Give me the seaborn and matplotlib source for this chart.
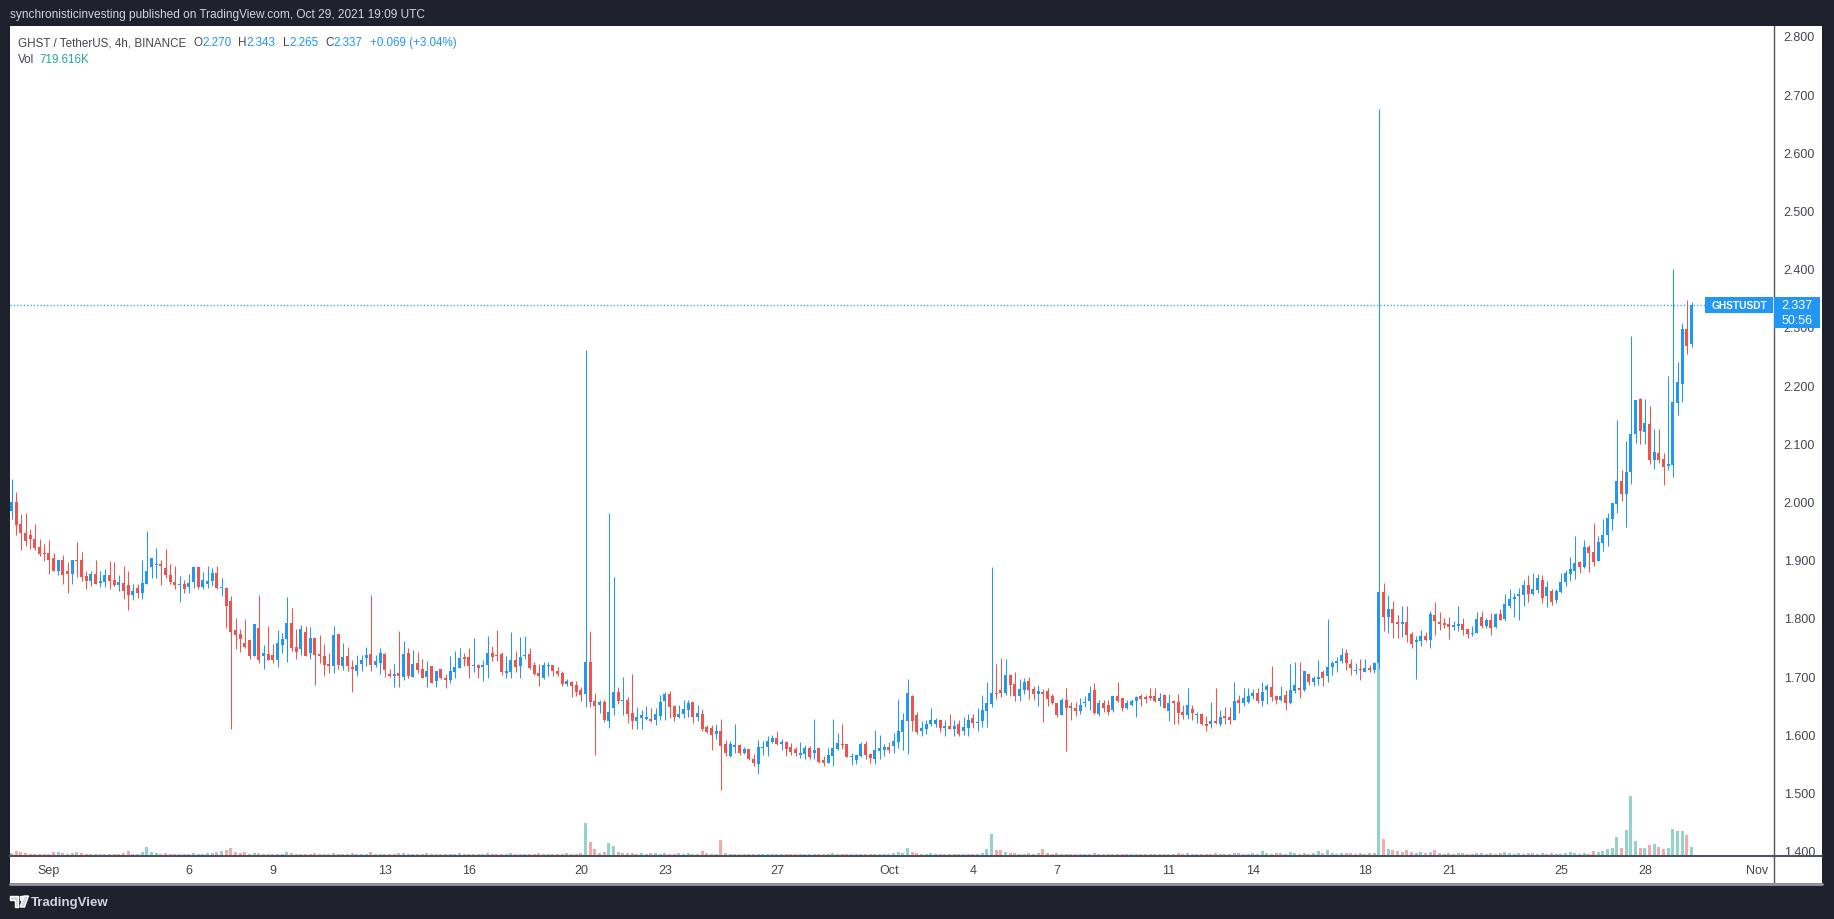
import numpy as np
import pandas as pd
import seaborn as sns
import matplotlib
matplotlib.use('Agg')
from matplotlib import pyplot as plt
import matplotlib.dates as mdates
from matplotlib.patches import Rectangle, Polygon
from matplotlib.lines import Line2D

# GHST / USDT 4h candles (Aug 30 16:00 -> Oct 29 16:00)
last_bar = '2021-10-29 16:00'

opens = [
    1.983, 1.999, 1.961, 1.946, 1.943, 1.936, 1.922, 1.912, 1.912, 1.903,
    1.881, 1.900, 1.881, 1.876, 1.900, 1.900, 1.872, 1.864, 1.876, 1.860,
    1.862, 1.874, 1.865, 1.857, 1.860, 1.857, 1.840, 1.851, 1.843, 1.859,
    1.888, 1.891, 1.893, 1.886, 1.874, 1.862, 1.857, 1.858, 1.854, 1.862,
    1.888, 1.854, 1.859, 1.864, 1.877, 1.852, 1.852, 1.829, 1.779, 1.772,
    1.757, 1.762, 1.735, 1.783, 1.734, 1.738, 1.736, 1.727, 1.754, 1.763,
    1.791, 1.750, 1.746, 1.776, 1.739, 1.766, 1.738, 1.734, 1.721, 1.718,
    1.772, 1.718, 1.735, 1.716, 1.708, 1.721, 1.732, 1.738, 1.720, 1.723,
    1.738, 1.704, 1.701, 1.706, 1.699, 1.740, 1.699, 1.723, 1.712, 1.699,
    1.717, 1.691, 1.712, 1.697, 1.693, 1.707, 1.714, 1.733, 1.733, 1.717,
    1.719, 1.716, 1.719, 1.740, 1.736, 1.738, 1.705, 1.707, 1.728, 1.717,
    1.734, 1.738, 1.719, 1.705, 1.697, 1.717, 1.719, 1.709, 1.705, 1.686,
    1.690, 1.684, 1.676, 1.669, 1.724, 1.657, 1.650, 1.655, 1.623, 1.645,
    1.673, 1.657, 1.659, 1.636, 1.623, 1.628, 1.626, 1.626, 1.625, 1.632,
    1.657, 1.669, 1.649, 1.630, 1.635, 1.642, 1.656, 1.630, 1.635, 1.613,
    1.611, 1.601, 1.606, 1.583, 1.563, 1.578, 1.582, 1.568, 1.575, 1.558,
    1.549, 1.577, 1.578, 1.587, 1.594, 1.583, 1.587, 1.578, 1.575, 1.565,
    1.566, 1.577, 1.568, 1.577, 1.556, 1.551, 1.563, 1.575, 1.583, 1.583,
    1.561, 1.556, 1.563, 1.583, 1.566, 1.558, 1.571, 1.573, 1.578, 1.580,
    1.587, 1.604, 1.623, 1.666, 1.633, 1.606, 1.609, 1.618, 1.618, 1.625,
    1.611, 1.614, 1.609, 1.618, 1.606, 1.611, 1.628, 1.619, 1.623, 1.640,
    1.652, 1.671, 1.676, 1.671, 1.702, 1.686, 1.666, 1.676, 1.692, 1.678,
    1.669, 1.673, 1.674, 1.666, 1.654, 1.633, 1.659, 1.649, 1.645, 1.640,
    1.654, 1.657, 1.676, 1.635, 1.654, 1.650, 1.642, 1.666, 1.662, 1.645,
    1.650, 1.657, 1.666, 1.664, 1.666, 1.666, 1.657, 1.668, 1.640, 1.657,
    1.656, 1.638, 1.633, 1.644, 1.633, 1.635, 1.618, 1.618, 1.623, 1.618,
    1.632, 1.630, 1.625, 1.659, 1.654, 1.656, 1.666, 1.671, 1.657, 1.676,
    1.681, 1.666, 1.659, 1.668, 1.654, 1.674, 1.680, 1.676, 1.704, 1.690,
    1.695, 1.707, 1.700, 1.716, 1.723, 1.726, 1.740, 1.721, 1.709, 1.712,
    1.707, 1.714, 1.711, 1.723, 1.845, 1.802, 1.815, 1.793, 1.790, 1.793,
    1.772, 1.759, 1.760, 1.769, 1.762, 1.805, 1.793, 1.791, 1.790, 1.785,
    1.786, 1.790, 1.781, 1.772, 1.774, 1.802, 1.786, 1.797, 1.785, 1.807,
    1.798, 1.820, 1.832, 1.837, 1.839, 1.856, 1.841, 1.848, 1.865, 1.837,
    1.846, 1.831, 1.844, 1.862, 1.875, 1.880, 1.896, 1.887, 1.922, 1.913,
    1.898, 1.929, 1.942, 1.970, 1.996, 2.035, 2.013, 2.051, 2.116, 2.176,
    2.119, 2.133, 2.071, 2.083, 2.073, 2.061, 2.063, 2.169, 2.202, 2.296,
    2.270,
]

highs = [
    2.039, 2.017, 1.979, 1.981, 1.953, 1.961, 1.936, 1.927, 1.934, 1.912,
    1.900, 1.908, 1.896, 1.900, 1.931, 1.913, 1.881, 1.881, 1.900, 1.881,
    1.884, 1.898, 1.896, 1.874, 1.889, 1.881, 1.859, 1.859, 1.900, 1.949,
    1.903, 1.920, 1.900, 1.919, 1.893, 1.889, 1.872, 1.865, 1.876, 1.888,
    1.888, 1.879, 1.889, 1.886, 1.889, 1.869, 1.853, 1.838, 1.800, 1.781,
    1.798, 1.764, 1.790, 1.839, 1.754, 1.786, 1.755, 1.779, 1.774, 1.836,
    1.817, 1.781, 1.788, 1.786, 1.785, 1.766, 1.771, 1.755, 1.740, 1.786,
    1.772, 1.757, 1.750, 1.727, 1.736, 1.736, 1.750, 1.839, 1.736, 1.748,
    1.739, 1.713, 1.721, 1.778, 1.760, 1.748, 1.745, 1.742, 1.730, 1.726,
    1.717, 1.709, 1.712, 1.704, 1.734, 1.743, 1.748, 1.740, 1.748, 1.765,
    1.721, 1.728, 1.769, 1.752, 1.779, 1.741, 1.734, 1.775, 1.744, 1.767,
    1.769, 1.748, 1.724, 1.721, 1.724, 1.724, 1.719, 1.716, 1.709, 1.695,
    1.691, 1.691, 1.681, 2.260, 1.777, 1.671, 1.659, 1.659, 1.980, 1.870,
    1.681, 1.698, 1.664, 1.704, 1.647, 1.642, 1.648, 1.645, 1.645, 1.668,
    1.673, 1.675, 1.650, 1.650, 1.659, 1.659, 1.656, 1.650, 1.644, 1.616,
    1.616, 1.618, 1.626, 1.590, 1.589, 1.618, 1.583, 1.578, 1.575, 1.566,
    1.590, 1.589, 1.597, 1.599, 1.606, 1.592, 1.589, 1.585, 1.578, 1.587,
    1.582, 1.580, 1.626, 1.578, 1.563, 1.577, 1.626, 1.602, 1.618, 1.583,
    1.568, 1.565, 1.587, 1.589, 1.568, 1.607, 1.599, 1.583, 1.587, 1.602,
    1.661, 1.637, 1.695, 1.668, 1.638, 1.623, 1.625, 1.645, 1.628, 1.625,
    1.625, 1.635, 1.625, 1.625, 1.630, 1.635, 1.635, 1.645, 1.668, 1.690,
    1.888, 1.721, 1.731, 1.729, 1.704, 1.707, 1.695, 1.697, 1.698, 1.683,
    1.685, 1.678, 1.680, 1.669, 1.654, 1.662, 1.680, 1.656, 1.656, 1.662,
    1.666, 1.683, 1.688, 1.659, 1.659, 1.659, 1.666, 1.690, 1.662, 1.659,
    1.661, 1.666, 1.669, 1.668, 1.680, 1.680, 1.671, 1.669, 1.669, 1.659,
    1.669, 1.650, 1.680, 1.650, 1.638, 1.637, 1.632, 1.656, 1.680, 1.642,
    1.647, 1.647, 1.690, 1.668, 1.680, 1.680, 1.678, 1.680, 1.690, 1.686,
    1.718, 1.668, 1.683, 1.676, 1.721, 1.724, 1.724, 1.709, 1.705, 1.700,
    1.728, 1.711, 1.798, 1.726, 1.733, 1.748, 1.747, 1.730, 1.723, 1.730,
    1.730, 1.719, 1.724, 2.675, 1.860, 1.839, 1.829, 1.805, 1.821, 1.821,
    1.776, 1.769, 1.779, 1.776, 1.812, 1.827, 1.810, 1.800, 1.802, 1.795,
    1.821, 1.800, 1.781, 1.786, 1.810, 1.812, 1.800, 1.809, 1.809, 1.815,
    1.841, 1.850, 1.843, 1.851, 1.865, 1.874, 1.877, 1.875, 1.874, 1.863,
    1.850, 1.850, 1.877, 1.882, 1.904, 1.941, 1.898, 1.934, 1.925, 1.963,
    1.941, 1.970, 1.980, 1.997, 2.140, 2.054, 2.104, 2.284, 2.174, 2.178,
    2.176, 2.164, 2.125, 2.125, 2.083, 2.216, 2.400, 2.240, 2.307, 2.346,
    2.343,
]

lows = [
    1.970, 1.943, 1.916, 1.924, 1.919, 1.917, 1.906, 1.898, 1.876, 1.880,
    1.874, 1.859, 1.843, 1.859, 1.871, 1.864, 1.849, 1.855, 1.859, 1.854,
    1.854, 1.850, 1.855, 1.847, 1.833, 1.814, 1.831, 1.835, 1.833, 1.859,
    1.869, 1.869, 1.857, 1.869, 1.859, 1.850, 1.828, 1.843, 1.843, 1.852,
    1.850, 1.850, 1.852, 1.855, 1.850, 1.838, 1.783, 1.609, 1.746, 1.742,
    1.749, 1.730, 1.734, 1.723, 1.713, 1.727, 1.723, 1.715, 1.739, 1.725,
    1.744, 1.730, 1.737, 1.734, 1.730, 1.684, 1.723, 1.701, 1.706, 1.706,
    1.713, 1.711, 1.708, 1.673, 1.701, 1.708, 1.718, 1.709, 1.715, 1.704,
    1.699, 1.699, 1.682, 1.682, 1.694, 1.697, 1.699, 1.706, 1.697, 1.682,
    1.689, 1.681, 1.695, 1.680, 1.688, 1.697, 1.714, 1.717, 1.697, 1.707,
    1.697, 1.691, 1.697, 1.726, 1.726, 1.702, 1.697, 1.697, 1.707, 1.697,
    1.729, 1.712, 1.702, 1.683, 1.695, 1.700, 1.700, 1.700, 1.683, 1.683,
    1.664, 1.666, 1.657, 1.647, 1.647, 1.564, 1.636, 1.621, 1.611, 1.633,
    1.652, 1.633, 1.619, 1.609, 1.609, 1.609, 1.624, 1.621, 1.616, 1.625,
    1.625, 1.628, 1.623, 1.628, 1.628, 1.630, 1.620, 1.623, 1.606, 1.602,
    1.573, 1.592, 1.504, 1.563, 1.561, 1.568, 1.565, 1.566, 1.556, 1.546,
    1.532, 1.565, 1.563, 1.585, 1.582, 1.573, 1.563, 1.565, 1.563, 1.559,
    1.558, 1.558, 1.558, 1.551, 1.546, 1.551, 1.546, 1.573, 1.575, 1.561,
    1.547, 1.549, 1.561, 1.558, 1.551, 1.549, 1.558, 1.563, 1.568, 1.568,
    1.577, 1.573, 1.566, 1.606, 1.601, 1.597, 1.601, 1.614, 1.613, 1.604,
    1.597, 1.609, 1.597, 1.597, 1.599, 1.597, 1.611, 1.606, 1.613, 1.613,
    1.647, 1.661, 1.664, 1.668, 1.666, 1.657, 1.657, 1.669, 1.661, 1.659,
    1.649, 1.621, 1.649, 1.652, 1.630, 1.633, 1.571, 1.625, 1.632, 1.635,
    1.647, 1.642, 1.635, 1.632, 1.638, 1.633, 1.638, 1.655, 1.640, 1.644,
    1.649, 1.630, 1.649, 1.654, 1.659, 1.656, 1.649, 1.645, 1.623, 1.618,
    1.618, 1.626, 1.626, 1.625, 1.619, 1.616, 1.606, 1.611, 1.618, 1.614,
    1.618, 1.618, 1.625, 1.637, 1.649, 1.654, 1.661, 1.654, 1.649, 1.652,
    1.657, 1.652, 1.657, 1.642, 1.652, 1.671, 1.662, 1.674, 1.685, 1.683,
    1.685, 1.683, 1.690, 1.702, 1.707, 1.723, 1.711, 1.702, 1.704, 1.693,
    1.707, 1.707, 1.705, 1.712, 1.778, 1.774, 1.766, 1.766, 1.767, 1.759,
    1.748, 1.695, 1.752, 1.760, 1.748, 1.771, 1.779, 1.783, 1.764, 1.779,
    1.778, 1.771, 1.766, 1.769, 1.774, 1.783, 1.783, 1.771, 1.783, 1.796,
    1.795, 1.817, 1.801, 1.796, 1.820, 1.827, 1.839, 1.843, 1.825, 1.819,
    1.822, 1.825, 1.843, 1.855, 1.863, 1.867, 1.877, 1.886, 1.879, 1.889,
    1.898, 1.915, 1.923, 1.951, 1.980, 2.001, 1.956, 2.030, 2.100, 2.099,
    2.099, 2.064, 2.056, 2.066, 2.028, 2.054, 2.042, 2.149, 2.171, 2.253,
    2.265,
]

closes = [
    1.999, 1.959, 1.946, 1.933, 1.935, 1.921, 1.910, 1.909, 1.900, 1.881,
    1.900, 1.873, 1.876, 1.900, 1.897, 1.871, 1.864, 1.876, 1.859, 1.864,
    1.874, 1.864, 1.857, 1.861, 1.847, 1.840, 1.846, 1.843, 1.860, 1.881,
    1.903, 1.893, 1.889, 1.873, 1.861, 1.857, 1.858, 1.850, 1.860, 1.888,
    1.854, 1.865, 1.864, 1.877, 1.852, 1.854, 1.821, 1.775, 1.771, 1.764,
    1.750, 1.735, 1.790, 1.727, 1.740, 1.727, 1.727, 1.757, 1.764, 1.791,
    1.749, 1.742, 1.781, 1.735, 1.766, 1.737, 1.734, 1.720, 1.718, 1.771,
    1.720, 1.733, 1.718, 1.713, 1.719, 1.728, 1.736, 1.720, 1.726, 1.740,
    1.711, 1.701, 1.704, 1.701, 1.738, 1.701, 1.721, 1.711, 1.697, 1.709,
    1.689, 1.709, 1.697, 1.693, 1.709, 1.716, 1.731, 1.729, 1.717, 1.719,
    1.714, 1.719, 1.740, 1.733, 1.734, 1.707, 1.709, 1.728, 1.716, 1.733,
    1.736, 1.714, 1.704, 1.700, 1.719, 1.719, 1.709, 1.704, 1.686, 1.691,
    1.683, 1.673, 1.667, 1.724, 1.655, 1.648, 1.655, 1.624, 1.638, 1.673,
    1.657, 1.659, 1.635, 1.623, 1.630, 1.633, 1.630, 1.623, 1.635, 1.656,
    1.669, 1.647, 1.630, 1.635, 1.644, 1.654, 1.630, 1.637, 1.609, 1.604,
    1.599, 1.606, 1.580, 1.568, 1.583, 1.582, 1.568, 1.575, 1.558, 1.551,
    1.578, 1.578, 1.589, 1.594, 1.583, 1.587, 1.575, 1.570, 1.568, 1.568,
    1.577, 1.561, 1.573, 1.552, 1.551, 1.565, 1.577, 1.585, 1.582, 1.561,
    1.563, 1.565, 1.583, 1.564, 1.559, 1.573, 1.577, 1.578, 1.573, 1.589,
    1.606, 1.625, 1.671, 1.623, 1.604, 1.611, 1.618, 1.625, 1.625, 1.611,
    1.614, 1.609, 1.614, 1.601, 1.613, 1.625, 1.619, 1.621, 1.642, 1.654,
    1.671, 1.669, 1.671, 1.702, 1.685, 1.666, 1.678, 1.690, 1.676, 1.669,
    1.674, 1.669, 1.661, 1.654, 1.633, 1.659, 1.645, 1.645, 1.640, 1.650,
    1.656, 1.671, 1.637, 1.654, 1.645, 1.638, 1.666, 1.657, 1.645, 1.654,
    1.657, 1.664, 1.661, 1.661, 1.662, 1.657, 1.662, 1.645, 1.654, 1.654,
    1.637, 1.633, 1.650, 1.637, 1.635, 1.618, 1.614, 1.623, 1.619, 1.630,
    1.628, 1.625, 1.657, 1.654, 1.662, 1.666, 1.671, 1.657, 1.673, 1.683,
    1.664, 1.659, 1.666, 1.654, 1.676, 1.685, 1.676, 1.709, 1.690, 1.697,
    1.699, 1.697, 1.716, 1.723, 1.726, 1.736, 1.723, 1.714, 1.711, 1.711,
    1.714, 1.711, 1.723, 1.845, 1.802, 1.815, 1.791, 1.790, 1.793, 1.771,
    1.755, 1.762, 1.769, 1.762, 1.807, 1.795, 1.790, 1.788, 1.785, 1.788,
    1.790, 1.779, 1.772, 1.774, 1.798, 1.786, 1.797, 1.783, 1.807, 1.796,
    1.824, 1.832, 1.836, 1.841, 1.856, 1.841, 1.850, 1.868, 1.834, 1.853,
    1.827, 1.846, 1.862, 1.877, 1.884, 1.894, 1.887, 1.922, 1.912, 1.896,
    1.930, 1.942, 1.972, 1.997, 2.035, 2.013, 2.051, 2.116, 2.174, 2.121,
    2.135, 2.071, 2.085, 2.071, 2.059, 2.064, 2.171, 2.205, 2.296, 2.267,
    2.337,
]

# volume in thousands of GHST
volumes_k = [
    260, 420, 340, 260, 180, 180, 200, 200, 180, 320,
    320, 260, 180, 260, 320, 260, 200, 180, 200, 180,
    180, 200, 160, 180, 240, 400, 200, 180, 320, 720,
    300, 240, 200, 240, 180, 160, 180, 160, 200, 240,
    200, 160, 240, 260, 320, 400, 480, 640, 320, 240,
    320, 200, 280, 260, 200, 160, 180, 200, 200, 320,
    240, 200, 200, 160, 200, 240, 180, 200, 160, 240,
    200, 160, 180, 240, 160, 160, 200, 320, 160, 200,
    200, 160, 200, 280, 240, 200, 160, 180, 160, 240,
    200, 160, 180, 200, 160, 200, 240, 200, 200, 160,
    160, 180, 240, 160, 200, 200, 180, 240, 160, 200,
    160, 200, 180, 240, 160, 160, 180, 200, 180, 240,
    200, 200, 240, 2640, 1120, 560, 240, 320, 1040, 800,
    320, 240, 280, 240, 200, 240, 200, 240, 240, 200,
    240, 200, 200, 240, 200, 240, 200, 200, 400, 240,
    200, 160, 1280, 240, 200, 160, 200, 160, 160, 160,
    200, 200, 160, 200, 160, 160, 200, 160, 160, 160,
    160, 160, 200, 160, 160, 200, 240, 200, 160, 200,
    160, 160, 200, 160, 160, 200, 200, 160, 160, 240,
    320, 240, 640, 320, 280, 200, 200, 240, 160, 200,
    160, 200, 160, 160, 200, 200, 160, 200, 240, 560,
    1760, 480, 480, 320, 240, 240, 200, 200, 240, 200,
    240, 560, 240, 200, 240, 200, 200, 160, 160, 200,
    200, 160, 240, 200, 200, 160, 200, 160, 160, 200,
    160, 160, 200, 200, 160, 200, 200, 160, 200, 160,
    240, 160, 240, 200, 160, 200, 200, 160, 240, 200,
    160, 200, 280, 240, 200, 160, 240, 200, 400, 240,
    200, 240, 240, 200, 320, 240, 200, 240, 200, 280,
    400, 240, 480, 240, 200, 240, 280, 240, 200, 240,
    200, 240, 280, 15440, 1360, 560, 480, 400, 320, 480,
    320, 240, 320, 240, 320, 480, 240, 200, 240, 200,
    240, 240, 200, 200, 240, 240, 200, 240, 200, 240,
    320, 240, 200, 240, 200, 240, 280, 200, 240, 200,
    240, 200, 160, 240, 320, 240, 160, 240, 160, 400,
    320, 400, 560, 640, 1520, 640, 2080, 4800, 1200, 640,
    640, 880, 960, 720, 560, 640, 2160, 2000, 2000, 1680,
    720,
]

date_ticks = ['2021-09-01', '2021-09-06', '2021-09-09', '2021-09-13', '2021-09-16',
              '2021-09-20', '2021-09-23', '2021-09-27', '2021-10-01', '2021-10-04',
              '2021-10-07', '2021-10-11', '2021-10-14', '2021-10-18', '2021-10-21',
              '2021-10-25', '2021-10-28', '2021-11-01']
date_labels = ['Sep', '6', '9', '13', '16', '20', '23', '27', 'Oct', '4',
               '7', '11', '14', '18', '21', '25', '28', 'Nov']
price_ticks = [1.4, 1.5, 1.6, 1.7, 1.8, 1.9, 2.0, 2.1, 2.2, 2.3, 2.4, 2.5, 2.6, 2.7, 2.8]

last_price = 2.337
header = 'synchronisticinvesting published on TradingView.com, Oct 29, 2021 19:09 UTC'

W, H = 1834, 920


def fx(px):
    return px / W


def fy(py):
    return 1 - py / H


UP, DOWN = '#2196f3', '#ef5350'
VOL_UP, VOL_DOWN = '#92d3cd', '#f7a9a7'
DARK = '#1e222d'
TXT = '#434651'
AXC = '#50535e'

sns.set_theme(style='white')
plt.rcParams['font.family'] = ['Liberation Sans', 'DejaVu Sans']

fig = plt.figure(figsize=(W / 100, H / 100), dpi=100, facecolor=DARK)
fig.patches.append(Rectangle((fx(10), fy(884)), fx(1822) - fx(10), fy(27) - fy(884),
                             transform=fig.transFigure, facecolor='white',
                             edgecolor='none', zorder=-10))

# volume axis underneath, price axis (twin) on top with labels on the right
ax_vol = fig.add_axes([fx(10), fy(857), fx(1774) - fx(10), fy(27) - fy(857)])
ax_vol.set_facecolor('white')
ax = ax_vol.twinx()

t = pd.date_range(end=last_bar, periods=len(closes), freq='4h')
x = mdates.date2num(t)
o, h, l, c = map(np.array, (opens, highs, lows, closes))
up = c >= o
cols = np.where(up, UP, DOWN)
day_px = 28.0
bw = 3 / day_px

ax_vol.bar(x, volumes_k, width=bw, color=np.where(up, VOL_UP, VOL_DOWN), linewidth=0)
ax_vol.set_ylim(0, 830 * 80)
ax_vol.set_yticks([])
ax_vol.set_xlim(x[0] - 1.5 / day_px, x[0] + (1774 - 11.5) / day_px)
ax_vol.set_xticks(mdates.date2num(pd.to_datetime(date_ticks)))
ax_vol.set_xticklabels(date_labels)
ax_vol.tick_params(axis='x', length=0, pad=6, labelsize=9, labelcolor=TXT)
for s in ax_vol.spines.values():
    s.set_visible(False)

ax.vlines(x, l, h, colors=cols, linewidth=0.75)
ax.bar(x, np.maximum(np.abs(c - o), 0.0017), bottom=np.minimum(o, c),
       width=bw, color=cols, linewidth=0)
ax.axhline(last_price, color=UP, lw=1, linestyle=(0, (0.8, 1.6)))
ax.set_ylim(1.391, 2.817)
ax.set_yticks(price_ticks)
ax.set_yticklabels([f'{p:.3f}' for p in price_ticks])
ax.tick_params(axis='y', length=0, pad=7, labelsize=9, labelcolor=TXT)
ax.grid(False)
ax_vol.grid(False)
for side in ['top', 'left']:
    ax.spines[side].set_visible(False)
ax.spines['right'].set_color(AXC)
ax.spines['right'].set_linewidth(1)
ax.spines['bottom'].set_color(AXC)
ax.spines['bottom'].set_linewidth(1.5)

# axis lines continue to the edge of the panel
fig.add_artist(Line2D([fx(1774), fx(1822)], [fy(857)] * 2, color=AXC, lw=1.5))
fig.add_artist(Line2D([fx(1774)] * 2, [fy(857), fy(884)], color=AXC, lw=1))
fig.add_artist(Line2D([fx(10), fx(1822)], [fy(884.5)] * 2, color='#9598a1', lw=2))

# header and legend
fig.text(fx(10), fy(15), header, color='#d1d4dc', fontsize=8.6, va='center')

renderer = fig.canvas.get_renderer()


def text_row(x_px, y_px, parts, size):
    for s, col, gap in parts:
        txt = fig.text(fx(x_px), fy(y_px), s, color=col, fontsize=size, va='center')
        x_px += txt.get_window_extent(renderer).width + gap


text_row(18, 43, [('GHST / TetherUS, 4h, BINANCE', TXT, 7),
                  ('O', TXT, 0), ('2.270', UP, 7),
                  ('H', TXT, 0), ('2.343', UP, 7),
                  ('L', TXT, 0), ('2.265', UP, 7),
                  ('C', TXT, 0), ('2.337', UP, 7),
                  ('+0.069 (+3.04%)', UP, 0)], 8.4)
text_row(18, 60, [('Vol', TXT, 5), ('719.616K', '#26a69a', 0)], 8.4)

# last price tags
fig.patches.append(Rectangle((fx(1705), fy(314)), fx(1773) - fx(1705), fy(298) - fy(314),
                             transform=fig.transFigure, facecolor=UP, edgecolor='none', zorder=6))
fig.text(fx(1739), fy(306), 'GHSTUSDT', color='white', fontsize=7.3, fontweight='bold',
         ha='center', va='center', zorder=7)
fig.patches.append(Rectangle((fx(1774), fy(329)), fx(1820) - fx(1774), fy(298) - fy(329),
                             transform=fig.transFigure, facecolor=UP, edgecolor='none', zorder=6))
fig.text(fx(1797), fy(306.5), f'{last_price:.3f}', color='white', fontsize=9,
         ha='center', va='center', zorder=7)
fig.text(fx(1797), fy(321.5), '50:56', color='white', fontsize=9,
         ha='center', va='center', zorder=7)

# TradingView mark at the bottom
logo = '#d1d4dc'
fig.patches.append(Polygon([(fx(10), fy(897)), (fx(18), fy(897)), (fx(18), fy(908)),
                            (fx(14.5), fy(908)), (fx(14.5), fy(900.5)), (fx(10), fy(900.5))],
                           closed=True, transform=fig.transFigure, facecolor=logo, zorder=6))
fig.patches.append(Rectangle((fx(19.5), fy(900.5)), fx(3), fy(897) - fy(900.5),
                             transform=fig.transFigure, facecolor=logo, zorder=6))
fig.patches.append(Polygon([(fx(24), fy(897)), (fx(28.5), fy(897)), (fx(24.5), fy(908)),
                            (fx(20), fy(908))],
                           closed=True, transform=fig.transFigure, facecolor=logo, zorder=6))
fig.text(fx(31), fy(903), 'TradingView', color=logo, fontsize=9.5, fontweight='bold',
         va='center')

fig.savefig('out.png', dpi=100, facecolor=fig.get_facecolor())
